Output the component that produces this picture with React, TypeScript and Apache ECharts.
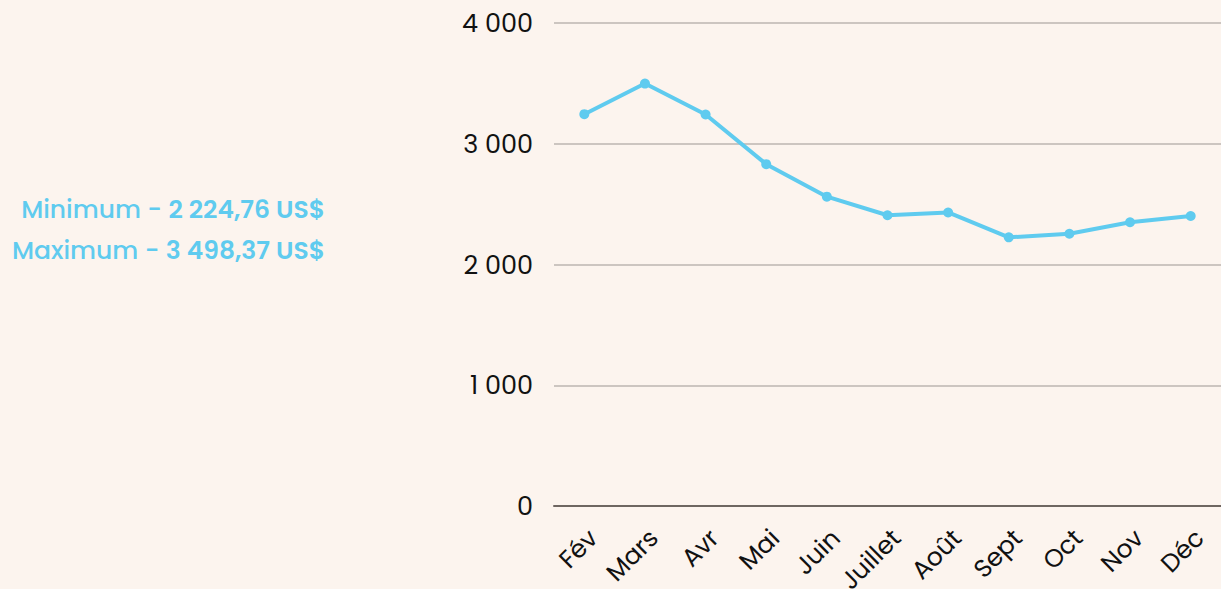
import React, { useEffect, useRef } from "react";
import * as echarts from "echarts";

const months = ["Fév", "Mars", "Avr", "Mai", "Juin", "Juillet", "Août", "Sept", "Oct", "Nov", "Déc"];
const prices = [3245, 3498.37, 3242, 2831, 2562, 2408, 2431, 2224.76, 2255, 2350, 2402];
const summaryLabels = ["Minimum", "Maximum"];
const summaryValues = ["2 224,76 US$", "3 498,37 US$"];

const FONT = "Poppins, 'Open Sans', 'Noto Sans', sans-serif";
const BLUE = "#5fcbef";

function fmt(v: number): string {
  return String(Math.round(v)).replace(/\B(?=(\d{3})+(?!\d))/g, " ");
}

export default function App() {
  const ref = useRef<HTMLDivElement>(null);
  useEffect(() => {
    if (!ref.current) return;
    const chart = echarts.init(ref.current, undefined, { renderer: "svg" });
    chart.setOption({
      animation: false,
      backgroundColor: "#fcf4ee",
      textStyle: { fontFamily: FONT },
      grid: {
        left: 554,
        right: 0,
        top: 23,
        bottom: 83,
        containLabel: false,
        outerBoundsMode: "none",
      },
      xAxis: {
        type: "category",
        data: months,
        boundaryGap: true,
        axisLine: { show: true, lineStyle: { color: "#6e6661", width: 2 } },
        axisTick: { show: false },
        axisLabel: {
          rotate: 45,
          color: "#111",
          fontSize: 25,
          fontFamily: FONT,
          margin: 19,
          interval: 0,
          verticalAlign: "top",
          hideOverlap: false,
        },
      },
      yAxis: {
        type: "value",
        min: 0,
        max: 4000,
        interval: 1000,
        axisLine: { show: false },
        axisTick: { show: false },
        splitLine: { show: true, lineStyle: { color: "#bdb6b0", width: 1.5 } },
        axisLabel: {
          color: "#111",
          fontSize: 25.5,
          fontFamily: FONT,
          margin: 21,
          formatter: (v: number) => fmt(v),
        },
      },
      graphic: summaryLabels.map((lab, i) => ({
        type: "text",
        right: 1221 - 325,
        top: 197 + i * 41,
        style: {
          text: `{n|${lab} - }{b|${summaryValues[i]}}`,
          rich: {
            n: { fill: BLUE, fontSize: 25, fontFamily: FONT, fontWeight: 500 },
            b: { fill: BLUE, fontSize: 25, fontFamily: FONT, fontWeight: 600 },
          },
          textAlign: "right",
        },
      })),
      series: [
        {
          type: "line",
          data: prices,
          smooth: false,
          symbol: "circle",
          symbolSize: 10,
          lineStyle: { color: BLUE, width: 4 },
          itemStyle: { color: BLUE },
          label: { show: false },
        },
      ],
    });
    return () => chart.dispose();
  }, []);
  return (
    <div
      ref={ref}
      style={{ width: 1221, height: 589, position: "fixed", left: 0, top: 0 }}
    />
  );
}
